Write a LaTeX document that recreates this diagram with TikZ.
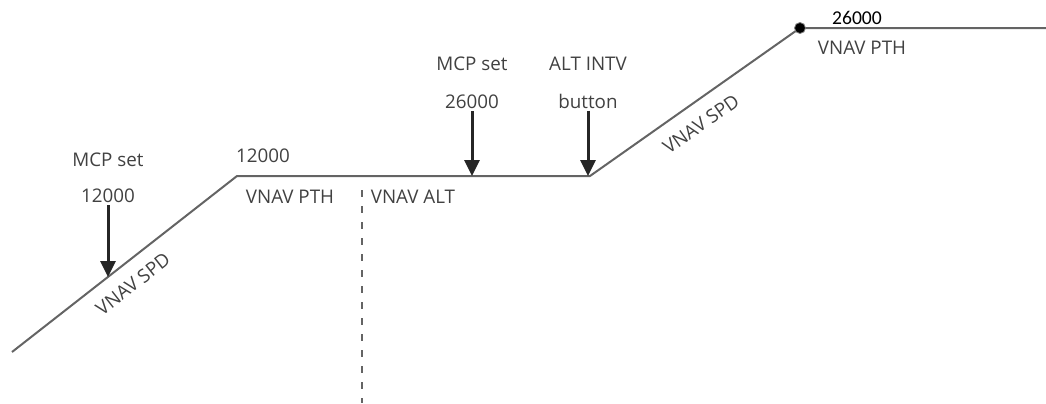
\documentclass[tikz,border=0pt]{standalone}
\usepackage{fontspec}
\setmainfont{Open Sans}
\newfontfamily\numfont{Carlito}
\usetikzlibrary{arrows.meta, calc}
\definecolor{pathgray}{RGB}{100, 100, 100}
\definecolor{labelgray}{RGB}{65, 65, 65}

\begin{document}
\begin{tikzpicture}[x=0.5pt, y=-0.5pt, font=\fontsize{9.4}{10}\selectfont]
\tikzset{
  lbl/.style={labelgray, inner sep=1pt, anchor=center},
  pusharrow/.style={-{Triangle[length=8pt, width=7.5pt]}, line width=1.5pt, black!85},
  profile/.style={pathgray, line width=1pt, line join=round},
}
\useasboundingbox (0,0) rectangle (1046,403);

% flight profile
\coordinate (start) at (12,352);
\coordinate (lvl1) at (237,176);
\coordinate (intv) at (590,176);
\coordinate (lvl2) at (800,28);
\coordinate (stop) at (1046,28);
\draw[profile] (start) -- (lvl1) -- (intv) -- (lvl2) -- (stop);
\fill[black] (lvl2) circle (5.5);
\draw[gray, line width=0.4pt] (lvl2) circle (5.5);
\node[lbl, rotate=38] (spd1) at (133,284) {VNAV SPD};
\node[lbl, rotate=35] (spd2) at (701,124) {VNAV SPD};

% mode change
\draw[pathgray, line width=0.8pt, dash pattern=on 3.5pt off 4.5pt] (362,190) -- (362,403);

% labels
\node[lbl] (mcpa) at (108,160) {MCP set};
\node[lbl] (alta) at (108,196) {12000};
\node[lbl] (lvl1alt) at (263,156) {12000};
\node[lbl] (pth1) at (290,197) {VNAV PTH};
\node[lbl] (altmode) at (413,197) {VNAV ALT};
\node[lbl] (mcpb) at (472,64) {MCP set};
\node[lbl] (altb) at (472,102) {26000};
\node[lbl] (intvtxt) at (588,64) {ALT INTV};
\node[lbl] (btn) at (588,101) {button};
\node[black, inner sep=1pt] (lvl2alt) at (857,18) {\numfont\fontsize{9.8}{10}\selectfont 26000};
\node[lbl] (pth2) at (862,48) {VNAV PTH};

% pilot inputs
\coordinate (hita) at (108,277);
\coordinate (hitb) at (472,176);
\coordinate (hitc) at (588,176);
\draw[pusharrow] (alta.south) -- (hita);
\draw[pusharrow] (altb.south) -- (hitb);
\draw[pusharrow] (btn.south) -- (hitc);
\end{tikzpicture}
\end{document}
